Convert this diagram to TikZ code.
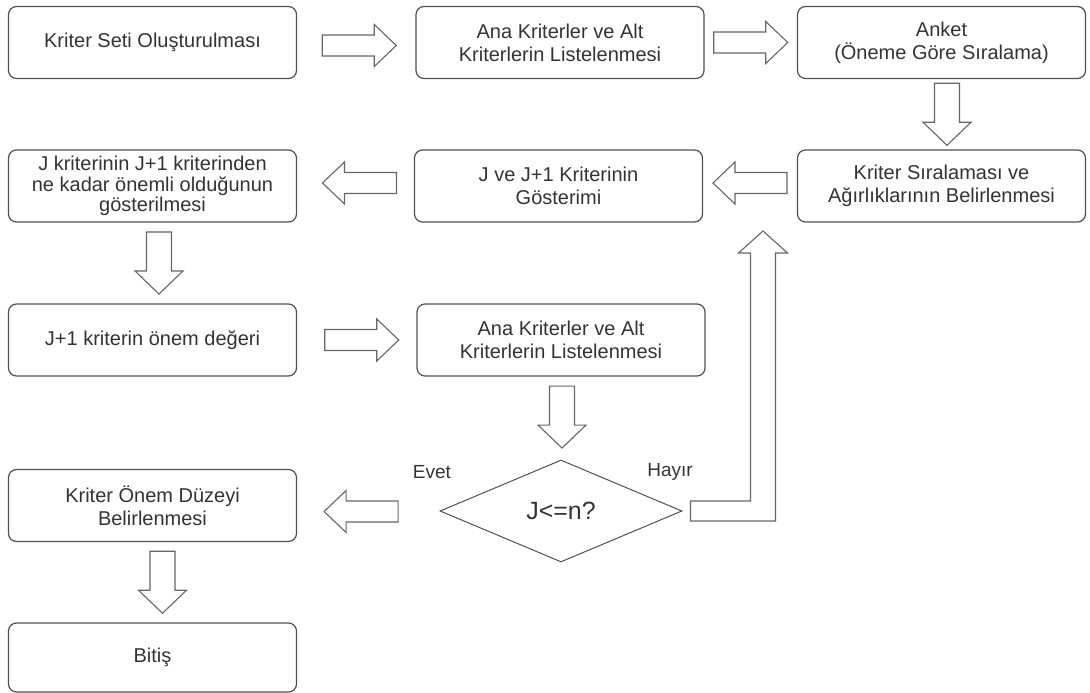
\documentclass[tikz,border=0pt]{standalone}
\usepackage{fontspec}
\setmainfont{Liberation Sans}
\usetikzlibrary{shapes.geometric,calc}
\definecolor{edge}{HTML}{505050}
\definecolor{arrowgray}{HTML}{666666}
\definecolor{ink}{HTML}{333333}
\tikzset{
  stepbox/.style={draw=edge, line width=1.2pt, rounded corners=8pt,
    minimum width=288pt, minimum height=72pt, inner sep=2pt,
    align=center, text=ink, font=\fontsize{20}{23}\selectfont},
  decision/.style={draw=edge, line width=1pt, diamond, aspect=2.37,
    minimum width=242pt, minimum height=102pt, inner sep=0pt,
    text=ink, font=\fontsize{25}{28}\selectfont},
  blockline/.style={draw=arrowgray, line width=1.1pt, fill=white, line join=miter},
  tag/.style={text=ink, font=\fontsize{19}{22}\selectfont},
  pics/hblock/.style={code={
    \draw[blockline] (-37,-10.5) -- (15,-10.5) -- (15,-21) -- (37,0)
      -- (15,21) -- (15,10.5) -- (-37,10.5) -- cycle;}},
  pics/vblock/.style={code={
    \draw[blockline] (-12.5,-31) -- (12.5,-31) -- (12.5,8) -- (24,8)
      -- (0,31) -- (-24,8) -- (-12.5,8) -- cycle;}},
}
\begin{document}
\begin{tikzpicture}[x=1pt,y=-1pt]
\useasboundingbox (0,0) rectangle (1090,693);

% process boxes
\node[stepbox] (kset)  at (152.5,42.5) {Kriter Seti Oluşturulması};
\node[stepbox] (list1) at (560,42.5)   {Ana Kriterler ve Alt\\Kriterlerin Listelenmesi};
\node[stepbox] (anket) at (941.5,42.5) {Anket\\(Öneme Göre Sıralama)};
\node[stepbox, font=\fontsize{20}{20.5}\selectfont] (jimp) at (152.5,186)
  {J kriterinin J+1 kriterinden\\ne kadar önemli olduğunun\\gösterilmesi};
\node[stepbox] (jshow) at (558.5,186)  {J ve J+1 Kriterinin\\Gösterimi};
\node[stepbox] (rank)  at (941.5,186)  {Kriter Sıralaması ve\\Ağırlıklarının Belirlenmesi};
\node[stepbox] (jval)  at (152.5,340)  {J+1 kriterin önem değeri};
\node[stepbox] (list2) at (561,340)    {Ana Kriterler ve Alt\\Kriterlerin Listelenmesi};
\node[stepbox] (level) at (152.5,505.5) {Kriter Önem Düzeyi\\Belirlenmesi};
\node[stepbox, minimum height=69pt] (finish) at (152.5,657.5) {Bitiş};

% decision
\node[decision] (dia) at (561,511) {J<=n?};
\node[tag] (evet)  at (432,472) {Evet};
\node[tag] (hayir) at (670,472) {Hayır};

% block arrows between steps
\path ($(kset.east)!0.5!(list1.west)+(3,3)$) pic {hblock};
\path ($(list1.east)!0.5!(anket.west)$) pic {hblock};
\path ($(anket.south)!0.5!(rank.north)+(5.5,0)$) pic {vblock};
\path ($(rank.west)!0.5!(jshow.east)+(0,-3)$) pic[rotate=180] {hblock};
\path ($(jshow.west)!0.5!(jimp.east)+(4,-3)$) pic[rotate=180] {hblock};
\path ($(jimp.south)!0.5!(jval.north)+(6.5,0)$) pic {vblock};
\path ($(jval.east)!0.5!(list2.west)+(5,0)$) pic {hblock};
\path ($(list2.south)!0.5!(dia.north)+(1,-1)$) pic {vblock};
\path ($(level.east)+(64,6)$) pic[rotate=180] {hblock};
\path ($(level.south)!0.5!(finish.north)+(10,0)$) pic {vblock};

% "Hayır" return arrow
\coordinate (h0) at ($(dia.east)+(8,0)$);
\draw[blockline] ($(h0)+(0,-10)$) -- ++(60,0) -- ++(0,-248) -- ++(-12,0)
  -- ++(24.5,-22) -- ++(24.5,22) -- ++(-12,0) -- ++(0,268) -- ++(-85,0) -- cycle;
\end{tikzpicture}
\end{document}
